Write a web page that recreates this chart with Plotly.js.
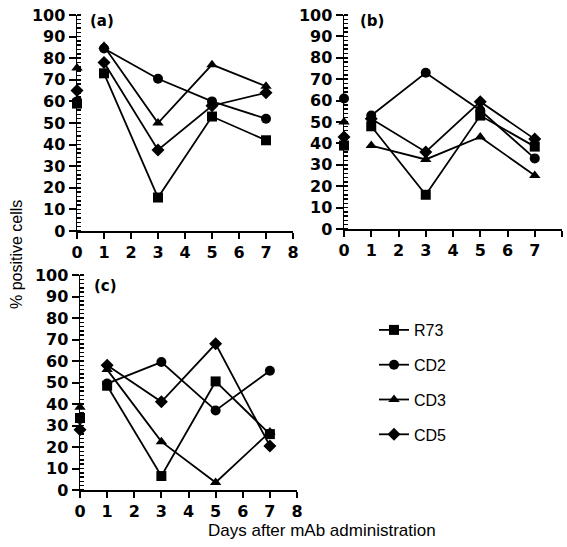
<!DOCTYPE html>
<html>
<head>
<meta charset="utf-8">
<script src="https://cdn.plot.ly/plotly-3.0.1.min.js"></script>
<style>html,body{margin:0;padding:0;background:#fff;}#chart{width:567px;height:547px;}</style>
</head>
<body>
<div id="chart"></div>
<script>
// Days after mAb administration
var days = [0, 1, 3, 5, 7];
var seriesNames = ["R73", "CD2", "CD3", "CD5"];
var seriesSymbols = ["square", "circle", "triangle-up", "diamond"];

// Panel (a)
var a_R73 = [59, 73, 15.5, 53, 42];
var a_CD2 = [60, 84.5, 70.5, 60, 52];
var a_CD3 = [75.5, 85.5, 50, 77, 67];
var a_CD5 = [65, 78, 37.5, 58, 64];

// Panel (b)
var b_R73 = [39, 48, 16, 53, 38.5];
var b_CD2 = [61, 53, 73, 55.5, 33];
var b_CD3 = [50, 39, 32.5, 43, 25];
var b_CD5 = [43, 51.5, 36, 59.5, 42];

// Panel (c)
var c_R73 = [33.5, 48.5, 6.5, 50.5, 26];
var c_CD2 = [33, 49.5, 59.5, 37, 55.5];
var c_CD3 = [38.5, 56, 22.5, 3.5, 27];
var c_CD5 = [28, 58, 41, 68, 20.5];

var panelLabels = ["(a)", "(b)", "(c)"];
var panels = [
  [a_R73, a_CD2, a_CD3, a_CD5],
  [b_R73, b_CD2, b_CD3, b_CD5],
  [c_R73, c_CD2, c_CD3, c_CD5]
];

var markerSizes = {"square": 10, "circle": 10, "triangle-up": 10, "diamond": 10};

// Day 0 is a baseline not joined to the following points: break the line after it
function withGap(arr) {
  return [arr[0], null].concat(arr.slice(1));
}

var traces = [];
panels.forEach(function (panel, p) {
  var sfx = p === 0 ? "" : String(p + 1);
  panel.forEach(function (vals, s) {
    traces.push({
      type: "scatter",
      mode: "lines+markers",
      x: withGap(days),
      y: withGap(vals),
      xaxis: "x" + sfx,
      yaxis: "y" + sfx,
      name: seriesNames[s],
      legendgroup: seriesNames[s],
      showlegend: p === 0,
      connectgaps: false,
      cliponaxis: false,
      line: {color: "#000", width: 1.8},
      marker: {symbol: seriesSymbols[s], size: markerSizes[seriesSymbols[s]], color: "#000"}
    });
  });
});

var tickFont = {family: "DejaVu Sans", size: 16, color: "#000", weight: "bold"};

function xAxis(domain, anchor) {
  return {
    domain: domain, anchor: anchor, range: [0, 8], tick0: 0, dtick: 1,
    showgrid: false, zeroline: false, showline: true, linecolor: "black", linewidth: 1.5,
    ticks: "outside", ticklen: 6, tickwidth: 2, tickcolor: "black",
    tickfont: tickFont
  };
}
function yAxis(domain, anchor) {
  return {
    domain: domain, anchor: anchor, range: [0, 100], tick0: 0, dtick: 10,
    showgrid: false, zeroline: false, showline: true, linecolor: "black", linewidth: 1.5,
    ticks: "outside", ticklen: 7, tickwidth: 2, tickcolor: "black",
    minor: {ticks: "inside", dtick: 2, ticklen: 4, tickwidth: 1.5, tickcolor: "black", showgrid: false},
    tickfont: tickFont
  };
}

var W = 567, H = 547;
var M = {l: 10, r: 2, t: 5, b: 5};
// convert page pixel positions into plot-area fractions
function fx(px) { return (px - M.l) / (W - M.l - M.r); }
function fy(py) { return (H - M.b - py) / (H - M.t - M.b); }
// paper-referenced annotations use the same plot-area fractions
var layout = {
  width: W, height: H,
  margin: {l: M.l, r: M.r, t: M.t, b: M.b, pad: 0},
  paper_bgcolor: "#fff", plot_bgcolor: "#fff",
  showlegend: true,
  font: {family: "Liberation Sans", color: "#000"},
  xaxis: xAxis([fx(77), fx(293)], "y"),
  yaxis: yAxis([fy(231), fy(15)], "x"),
  xaxis2: xAxis([fx(344), fx(562)], "y2"),
  yaxis2: yAxis([fy(229), fy(15)], "x2"),
  xaxis3: xAxis([fx(80), fx(297)], "y3"),
  yaxis3: yAxis([fy(490), fy(275)], "x3"),
  legend: {
    x: fx(374), y: fy(313), xanchor: "left", yanchor: "top",
    bgcolor: "rgba(0,0,0,0)", borderwidth: 0,
    font: {family: "Liberation Sans", size: 16, color: "#000"},
    tracegroupgap: 11, itemwidth: 30
  },
  annotations: [
    {text: panelLabels[0], xref: "x", yref: "y", x: 0.4, y: 97, xanchor: "left", yanchor: "middle", showarrow: false, font: {family: "DejaVu Sans", size: 15, weight: "bold"}},
    {text: panelLabels[1], xref: "x2", yref: "y2", x: 0.5, y: 97, xanchor: "left", yanchor: "middle", showarrow: false, font: {family: "DejaVu Sans", size: 15, weight: "bold"}},
    {text: panelLabels[2], xref: "x3", yref: "y3", x: 0.45, y: 95, xanchor: "left", yanchor: "middle", showarrow: false, font: {family: "DejaVu Sans", size: 15, weight: "bold"}},
    {text: "% positive cells", xref: "paper", yref: "paper", x: fx(17), y: fy(255), textangle: -90, xanchor: "center", yanchor: "middle", showarrow: false, font: {family: "Liberation Sans", size: 16}},
    {text: "Days after mAb administration", xref: "paper", yref: "paper", x: fx(322), y: fy(530), xanchor: "center", yanchor: "middle", showarrow: false, font: {family: "Liberation Sans", size: 17}}
  ]
};

Plotly.newPlot("chart", traces, layout, {displayModeBar: false, staticPlot: true});
</script>
</body>
</html>
